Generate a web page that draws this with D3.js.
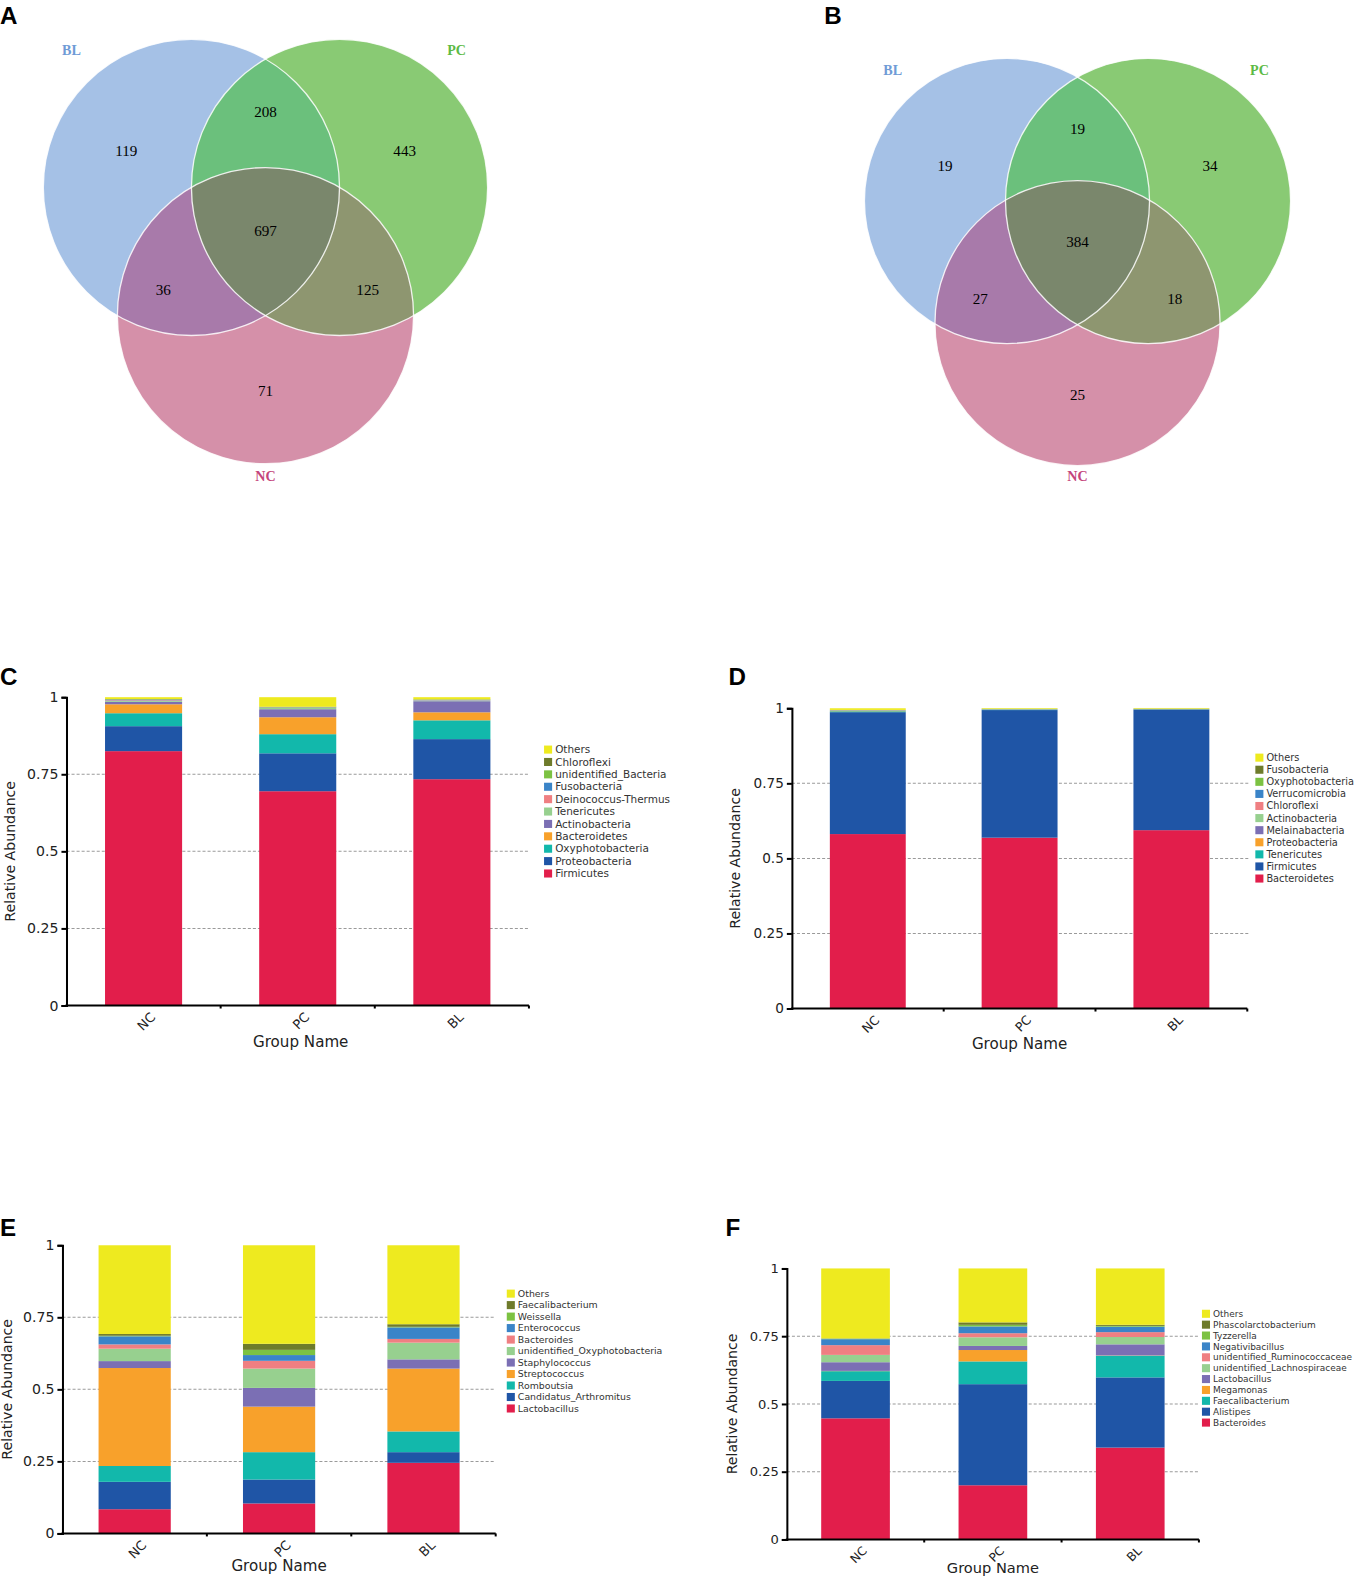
<!DOCTYPE html>
<html>
<head>
<meta charset="utf-8">
<script src="https://cdn.jsdelivr.net/npm/d3@7"></script>
<style>
  html, body { margin: 0; padding: 0; overflow: hidden; background: #fff; }
  #fig { width: 1358px; height: 1579px; overflow: hidden; }
  svg { display: block; }
</style>
</head>
<body>
<div id="fig"></div>
<script>
// ---- data ----
const groups = ["NC", "PC", "BL"];
const yTicks = [0, 0.25, 0.5, 0.75, 1];
const gridTicks = [0.25, 0.5, 0.75];

// venn regions: BL only, BL&PC, PC only, all, BL&NC, PC&NC, NC only
const vennSets = ["BL", "PC", "NC"];
const vennA = [119, 208, 443, 697, 36, 125, 71];
const vennB = [19, 19, 34, 384, 27, 18, 25];

// taxa listed from bottom of the stack to the top
const taxaC = ["Firmicutes", "Proteobacteria", "Oxyphotobacteria", "Bacteroidetes", "Actinobacteria",
  "Tenericutes", "Deinococcus-Thermus", "Fusobacteria", "unidentified_Bacteria", "Chloroflexi", "Others"];
const cNC = [0.825, 0.081, 0.042, 0.029, 0.008, 0.003, 0.002, 0.002, 0.001, 0.001, 0.006];
const cPC = [0.695, 0.123, 0.062, 0.055, 0.026, 0.004, 0.001, 0.001, 0.001, 0.001, 0.031];
const cBL = [0.734, 0.130, 0.061, 0.026, 0.036, 0.002, 0.001, 0.001, 0.001, 0.001, 0.007];

const taxaD = ["Bacteroidetes", "Firmicutes", "Tenericutes", "Proteobacteria", "Melainabacteria",
  "Actinobacteria", "Chloroflexi", "Verrucomicrobia", "Oxyphotobacteria", "Fusobacteria", "Others"];
const dNC = [0.581, 0.406, 0.003, 0.001, 0.001, 0.0005, 0.0005, 0.0005, 0.0005, 0.0005, 0.0055];
const dPC = [0.569, 0.425, 0.002, 0.0005, 0.0005, 0.0003, 0.0003, 0.0002, 0.0002, 0.0002, 0.0023];
const dBL = [0.594, 0.402, 0.001, 0.0005, 0.0003, 0.0002, 0.0002, 0.0002, 0.0002, 0.0002, 0.0022];

const taxaE = ["Lactobacillus", "Candidatus_Arthromitus", "Romboutsia", "Streptococcus", "Staphylococcus",
  "unidentified_Oxyphotobacteria", "Bacteroides", "Enterococcus", "Weissella", "Faecalibacterium", "Others"];
const eNC = [0.084, 0.095, 0.055, 0.340, 0.024, 0.043, 0.015, 0.028, 0.002, 0.006, 0.308];
const ePC = [0.104, 0.083, 0.095, 0.158, 0.065, 0.067, 0.027, 0.020, 0.018, 0.021, 0.342];
const eBL = [0.245, 0.037, 0.072, 0.218, 0.032, 0.058, 0.013, 0.040, 0.002, 0.009, 0.274];

const taxaF = ["Bacteroides", "Alistipes", "Faecalibacterium", "Megamonas", "Lactobacillus",
  "unidentified_Lachnospiraceae", "unidentified_Ruminococcaceae", "Negativibacillus", "Tyzzerella",
  "Phascolarctobacterium", "Others"];
const fNC = [0.447, 0.138, 0.036, 0.001, 0.032, 0.027, 0.036, 0.022, 0.002, 0.001, 0.258];
const fPC = [0.200, 0.373, 0.084, 0.042, 0.015, 0.032, 0.015, 0.025, 0.006, 0.009, 0.199];
const fBL = [0.339, 0.259, 0.080, 0.001, 0.041, 0.027, 0.018, 0.020, 0.003, 0.004, 0.208];

const palette = ["#e21e4b", "#1f55a6", "#12b8ab", "#f8a12b", "#7b6fb4", "#97d08f",
  "#ef7f82", "#3a84c8", "#7cc242", "#6e7b2b", "#eeea1f"];

// ---- drawing ----
const root = d3.select("#fig").append("svg")
  .attr("width", 1358).attr("height", 1579)
  .style("background", "#fff");
// small overall correction so the layout lines up with the original figure
const svg = root.append("g").attr("transform", "scale(1.0075)");

const sans = "'DejaVu Sans', Verdana, sans-serif";
const serif = "'Liberation Serif', 'Times New Roman', serif";

function panelLetter(t, x, y) {
  svg.append("text").attr("x", x).attr("y", y)
    .attr("font-family", "'Liberation Sans', Arial, sans-serif")
    .attr("font-weight", "bold").attr("font-size", 24)
    .text(t);
}

let clipId = 0;
function drawVenn(values, cx, cy, d, r) {
  const g = svg.append("g");
  const centers = [
    [cx - d / 2, cy],
    [cx + d / 2, cy],
    [cx, cy + d * Math.sqrt(3) / 2]
  ];
  const fills = ["#a5c1e6", "#89ca74", "#d590a9"];
  const clips = centers.map(c => {
    const id = "vc" + (clipId++);
    svg.append("clipPath").attr("id", id)
      .append("circle").attr("cx", c[0]).attr("cy", c[1]).attr("r", r);
    return id;
  });

  centers.forEach((c, i) => {
    g.append("circle").attr("cx", c[0]).attr("cy", c[1]).attr("r", r).attr("fill", fills[i]);
  });
  // pairwise overlaps
  const pairs = [[0, 1, "#6bc07c"], [0, 2, "#a87aaa"], [1, 2, "#8e9670"]];
  pairs.forEach(([a, b, col]) => {
    g.append("g").attr("clip-path", `url(#${clips[a]})`)
      .append("circle").attr("cx", centers[b][0]).attr("cy", centers[b][1]).attr("r", r)
      .attr("fill", col);
  });
  // triple overlap
  g.append("g").attr("clip-path", `url(#${clips[0]})`)
    .append("g").attr("clip-path", `url(#${clips[1]})`)
    .append("circle").attr("cx", centers[2][0]).attr("cy", centers[2][1]).attr("r", r)
    .attr("fill", "#7a876c");
  centers.forEach(c => {
    g.append("circle").attr("cx", c[0]).attr("cy", c[1]).attr("r", r)
      .attr("fill", "none").attr("stroke", "#fff").attr("stroke-width", 1.3).attr("opacity", 0.85);
  });

  const spots = [
    [-0.94, -0.25], [0, -0.51], [0.94, -0.25], [0, 0.29],
    [-0.69, 0.69], [0.69, 0.69], [0, 1.37]
  ];
  g.selectAll("text.num").data(values).enter().append("text")
    .attr("class", "num")
    .attr("x", (v, i) => cx + spots[i][0] * d)
    .attr("y", (v, i) => cy + spots[i][1] * d)
    .attr("dy", "0.35em")
    .attr("text-anchor", "middle")
    .attr("font-family", serif).attr("font-size", 15)
    .text(v => v);

  const labelPos = [[-1.31, -0.93], [1.29, -0.93], [0, 1.95]];
  const labelCol = ["#6f9bd6", "#5cba45", "#c4457b"];
  vennSets.forEach((s, i) => {
    g.append("text")
      .attr("x", cx + labelPos[i][0] * d).attr("y", cy + labelPos[i][1] * d)
      .attr("dy", "0.35em").attr("text-anchor", "middle")
      .attr("font-family", serif).attr("font-weight", "bold").attr("font-size", 14)
      .attr("fill", labelCol[i])
      .text(s);
  });
}

function drawStack(cfg) {
  const rows = groups.map((gname, gi) => {
    const o = { group: gname };
    cfg.taxa.forEach((t, ti) => { o[t] = cfg.values[gi][ti]; });
    return o;
  });
  const series = d3.stack().keys(cfg.taxa)(rows);

  const x = d3.scaleBand().domain(groups).range([cfg.x0, cfg.x1]).paddingInner(0.5).paddingOuter(0.25);
  const y = d3.scaleLinear().domain([0, 1]).range([cfg.yBot, cfg.yTop]);
  const color = d3.scaleOrdinal().domain(cfg.taxa).range(palette);
  const g = svg.append("g");

  // dashed grid
  g.selectAll("line.grid").data(gridTicks).enter().append("line")
    .attr("x1", cfg.x0).attr("x2", cfg.gridEnd || cfg.x1)
    .attr("y1", d => y(d)).attr("y2", d => y(d))
    .attr("stroke", "#9a9a9a").attr("stroke-width", 1).attr("stroke-dasharray", "3,2");

  g.selectAll("g.layer").data(series).enter().append("g")
    .attr("fill", d => color(d.key))
    .selectAll("rect").data(d => d).enter().append("rect")
    .attr("x", d => x(d.data.group))
    .attr("width", x.bandwidth())
    .attr("y", d => y(d[1]))
    .attr("height", d => Math.max(0, y(d[0]) - y(d[1])));

  // y axis
  const ya = g.append("g").attr("transform", `translate(${cfg.x0},0)`)
    .call(d3.axisLeft(y).tickValues(yTicks).tickFormat(d3.format("~g")).tickSize(5).tickSizeOuter(5));
  ya.select(".domain").attr("stroke-width", 2);
  ya.selectAll(".tick line").attr("stroke-width", 2);
  ya.selectAll("text").attr("font-family", sans).attr("font-size", cfg.tickSize).attr("fill", "#222");

  // x axis
  g.append("line").attr("x1", cfg.x0 - 1).attr("x2", cfg.x1)
    .attr("y1", cfg.yBot).attr("y2", cfg.yBot)
    .attr("stroke", "#000").attr("stroke-width", 2);
  g.selectAll("line.xt").data(groups).enter().append("line")
    .attr("x1", d => x(d) + x.bandwidth() / 2 + x.step() / 2)
    .attr("x2", d => x(d) + x.bandwidth() / 2 + x.step() / 2)
    .attr("y1", cfg.yBot).attr("y2", cfg.yBot + 3)
    .attr("stroke", "#000").attr("stroke-width", 2);
  g.selectAll("text.xl").data(groups).enter().append("text")
    .attr("transform", d => `translate(${x(d) + x.bandwidth() / 2 + 7},${cfg.yBot + 7}) rotate(-45)`)
    .attr("text-anchor", "end").attr("dy", "0.6em")
    .attr("font-family", sans).attr("font-size", cfg.tickSize - 1).attr("fill", "#222")
    .text(d => d);

  g.append("text")
    .attr("x", (cfg.x0 + cfg.x1) / 2 + cfg.titleShift).attr("y", cfg.yBot + cfg.titleGap)
    .attr("text-anchor", "middle")
    .attr("font-family", sans).attr("font-size", cfg.titleFont || 15).attr("fill", "#222")
    .text("Group Name");
  g.append("text")
    .attr("transform", `translate(${cfg.yLabelX},${(cfg.yTop + cfg.yBot) / 2}) rotate(-90)`)
    .attr("text-anchor", "middle").attr("dy", "0.35em")
    .attr("font-family", sans).attr("font-size", 14).attr("fill", "#222")
    .text("Relative Abundance");

  // legend (top row = last key)
  const legendKeys = cfg.taxa.slice().reverse();
  const lg = g.append("g");
  legendKeys.forEach((k, i) => {
    const yy = cfg.legY + i * cfg.legStep;
    lg.append("rect").attr("x", cfg.legX).attr("y", yy - cfg.sq / 2)
      .attr("width", cfg.sq).attr("height", cfg.sq).attr("fill", color(k));
    lg.append("text").attr("x", cfg.legX + cfg.sq + 3).attr("y", yy)
      .attr("dy", "0.35em")
      .attr("font-family", sans).attr("font-size", cfg.legFont).attr("fill", "#333")
      .text(k);
  });
}

panelLetter("A", 0, 24);
panelLetter("B", 818, 24);
panelLetter("C", 0, 680);
panelLetter("D", 723, 680);
panelLetter("E", 0, 1227);
panelLetter("F", 720, 1227);

drawVenn(vennA, 263.5, 186, 147, 147);
drawVenn(vennB, 1069.5, 199.5, 140, 141.5);

drawStack({
  taxa: taxaC, values: [cNC, cPC, cBL],
  x0: 66, x1: 525, yTop: 692, yBot: 998,
  tickSize: 14, titleGap: 41, titleShift: 3, yLabelX: 10,
  legX: 540, legY: 744, legStep: 12.3, sq: 8, legFont: 10.4
});
drawStack({
  taxa: taxaD, values: [dNC, dPC, dBL],
  x0: 786, x1: 1238, yTop: 703, yBot: 1001, gridEnd: 1240,
  tickSize: 13.5, titleGap: 40, titleShift: 0, yLabelX: 730,
  legX: 1246, legY: 752, legStep: 12, sq: 8, legFont: 9.7
});
drawStack({
  taxa: taxaE, values: [eNC, ePC, eBL],
  x0: 62, x1: 492, yTop: 1236, yBot: 1522,
  tickSize: 14, titleGap: 37, titleShift: 0, yLabelX: 7,
  legX: 503, legY: 1284, legStep: 11.4, sq: 8, legFont: 9.3
});
drawStack({
  taxa: taxaF, values: [fNC, fPC, fBL],
  x0: 781, x1: 1190, yTop: 1259, yBot: 1528, titleFont: 14.5,
  tickSize: 13, titleGap: 33, titleShift: 0, yLabelX: 727,
  legX: 1193, legY: 1304, legStep: 10.8, sq: 8, legFont: 8.9
});
</script>
</body>
</html>
